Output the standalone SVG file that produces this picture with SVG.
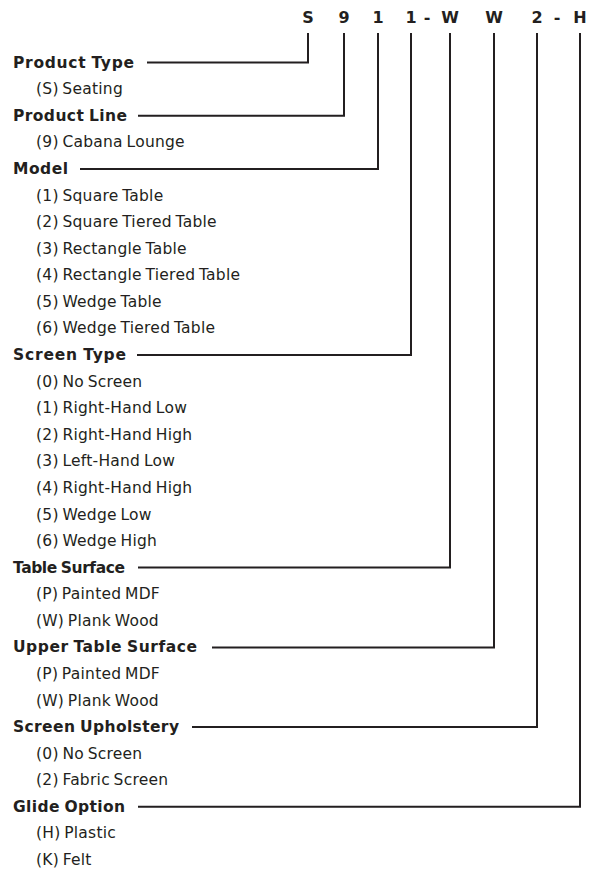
<svg xmlns="http://www.w3.org/2000/svg" width="590" height="874" viewBox="0 0 590 874">
<style>
text{font-family:"DejaVu Sans","Liberation Sans",sans-serif;fill:#231f20}
.h{font-size:15.5px;font-weight:bold;word-spacing:-1px}
.i{font-size:15.5px;letter-spacing:0.25px;word-spacing:-1.5px}
.c{font-size:16px;font-weight:bold;text-anchor:middle}
.ln{fill:none;stroke:#231f20;stroke-width:2;stroke-linejoin:miter;stroke-linecap:butt}
</style>
<rect width="590" height="874" fill="#fff"/>
<g id="code">
<text class="c" x="308" y="23">S</text>
<text class="c" x="344" y="23">9</text>
<text class="c" x="378" y="23">1</text>
<text class="c" x="411" y="23">1</text>
<text class="c" x="427" y="23">-</text>
<text class="c" x="450" y="23">W</text>
<text class="c" x="494" y="23">W</text>
<text class="c" x="537" y="23">2</text>
<text class="c" x="557" y="23">-</text>
<text class="c" x="580" y="23">H</text>
</g>
<g id="connectors">
<path class="ln" d="M147 62.6H308V33"/>
<path class="ln" d="M138 115.8H344V33"/>
<path class="ln" d="M80 168.9H378V33"/>
<path class="ln" d="M137 355H411V33"/>
<path class="ln" d="M138 567.6H450V33"/>
<path class="ln" d="M212 647.4H494V33"/>
<path class="ln" d="M192 727.1H537V33"/>
<path class="ln" d="M138 806.8H580V33"/>
</g>
<g id="product-type">
<text class="h" x="13" y="67.6" textLength="121">Product Type</text>
<text class="i" x="36" y="94.2">(S) Seating</text>
</g>
<g id="product-line">
<text class="h" x="13" y="120.8" textLength="114">Product Line</text>
<text class="i" x="36" y="147.3">(9) Cabana Lounge</text>
</g>
<g id="model">
<text class="h" x="13" y="173.9" textLength="55">Model</text>
<text class="i" x="36" y="200.5">(1) Square Table</text>
<text class="i" x="36" y="227.1">(2) Square Tiered Table</text>
<text class="i" x="36" y="253.7">(3) Rectangle Table</text>
<text class="i" x="36" y="280.2">(4) Rectangle Tiered Table</text>
<text class="i" x="36" y="306.8">(5) Wedge Table</text>
<text class="i" x="36" y="333.4">(6) Wedge Tiered Table</text>
</g>
<g id="screen-type">
<text class="h" x="13" y="360" textLength="113">Screen Type</text>
<text class="i" x="36" y="386.6">(0) No Screen</text>
<text class="i" x="36" y="413.1">(1) Right-Hand Low</text>
<text class="i" x="36" y="439.7">(2) Right-Hand High</text>
<text class="i" x="36" y="466.3">(3) Left-Hand Low</text>
<text class="i" x="36" y="492.9">(4) Right-Hand High</text>
<text class="i" x="36" y="519.5">(5) Wedge Low</text>
<text class="i" x="36" y="546">(6) Wedge High</text>
</g>
<g id="table-surface">
<text class="h" x="13" y="572.6" textLength="112">Table Surface</text>
<text class="i" x="36" y="599.2">(P) Painted MDF</text>
<text class="i" x="36" y="625.8">(W) Plank Wood</text>
</g>
<g id="upper-table-surface">
<text class="h" x="13" y="652.4" textLength="184">Upper Table Surface</text>
<text class="i" x="36" y="678.9">(P) Painted MDF</text>
<text class="i" x="36" y="705.5">(W) Plank Wood</text>
</g>
<g id="screen-upholstery">
<text class="h" x="13" y="732.1" textLength="166">Screen Upholstery</text>
<text class="i" x="36" y="758.7">(0) No Screen</text>
<text class="i" x="36" y="785.3">(2) Fabric Screen</text>
</g>
<g id="glide-option">
<text class="h" x="13" y="811.8" textLength="112">Glide Option</text>
<text class="i" x="36" y="838.4">(H) Plastic</text>
<text class="i" x="36" y="865">(K) Felt</text>
</g>
</svg>
